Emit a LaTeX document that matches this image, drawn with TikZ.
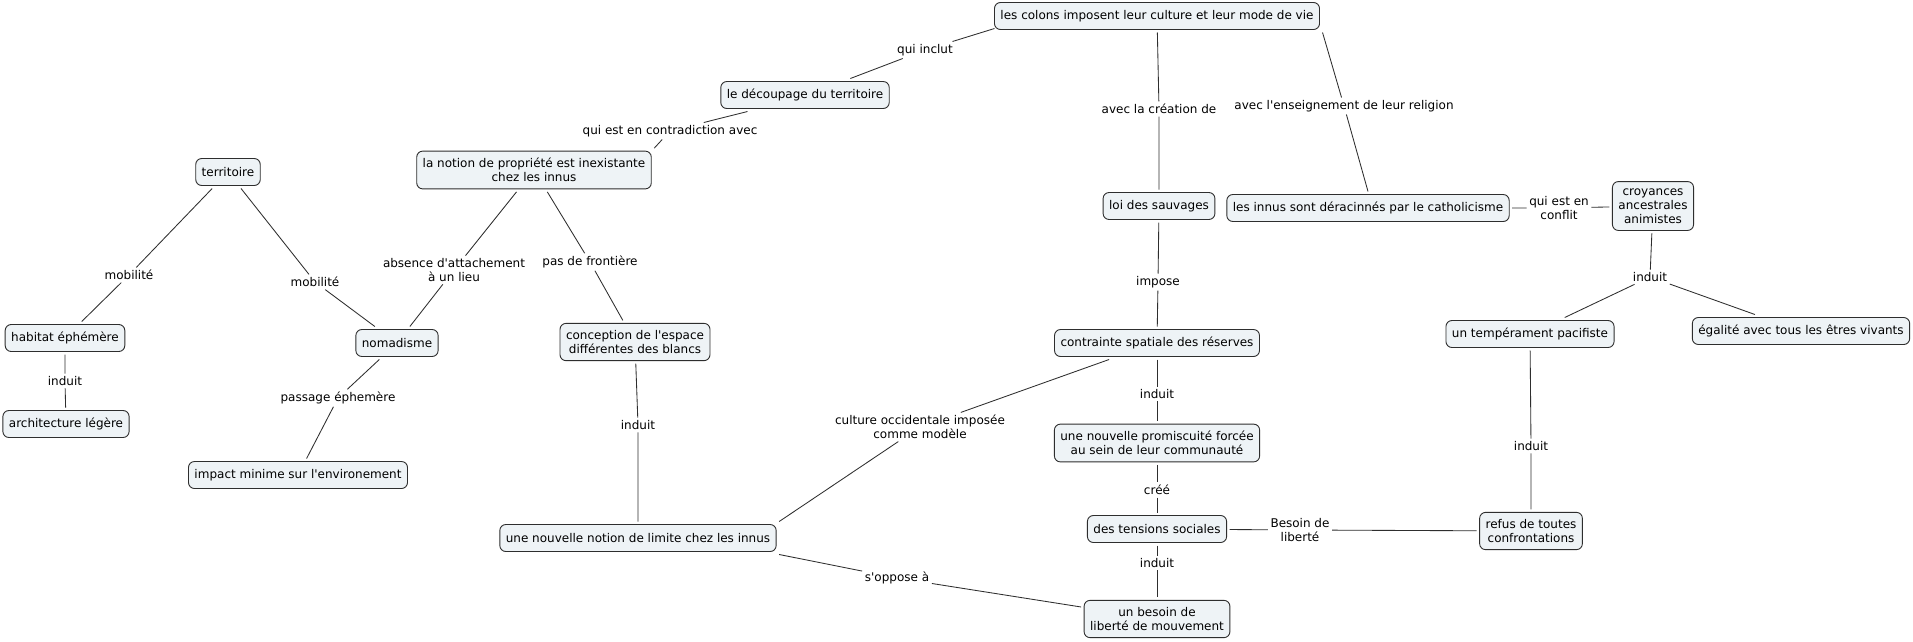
\documentclass[tikz,border=0pt]{standalone}
\usepackage{fontspec}
\newfontfamily\dvfont{DejaVu Sans}
\usetikzlibrary{calc}
\definecolor{boxfill}{HTML}{EEF3F6}
\definecolor{edgecol}{HTML}{2E2E2E}
\tikzset{
  box/.style={draw=edgecol, fill=boxfill, rounded corners=6pt, line width=0.9pt,
    inner xsep=6pt, inner ysep=7pt, minimum height=27pt, align=center,
    font=\dvfont\fontsize{12}{14}\selectfont, outer sep=3pt},
  lbl/.style={inner sep=2.5pt, align=center, font=\dvfont\fontsize{12}{14}\selectfont},
  link/.style={draw=edgecol, line width=0.85pt}
}
\begin{document}
\begin{tikzpicture}[x=1pt, y=-1pt]
\useasboundingbox[fill=white] (0,0) rectangle (1913,641);
% concept boxes
\node[box] (colons) at (1157,16) {les colons imposent leur culture et leur mode de vie};
\node[box] (decoupage) at (805,95) {le découpage du territoire};
\node[box] (notion) at (534,170) {la notion de propriété est inexistante\\chez les innus};
\node[box] (territoire) at (228,172) {territoire};
\node[box] (habitat) at (65,338) {habitat éphémère};
\node[box] (archi) at (66,424) {architecture légère};
\node[box] (nomadisme) at (397,343) {nomadisme};
\node[box] (impact) at (298,475) {impact minime sur l'environement};
\node[box] (conception) at (635,342) {conception de l'espace\\différentes des blancs};
\node[box] (limite) at (638,538) {une nouvelle notion de limite chez les innus};
\node[box] (loi) at (1159,206) {loi des sauvages};
\node[box] (innus) at (1368,208) {les innus sont déracinnés par le catholicisme};
\node[box] (croyances) at (1653,206) {croyances\\ancestrales\\animistes};
\node[box] (pacifiste) at (1530,334) {un tempérament pacifiste};
\node[box] (egalite) at (1801,331) {égalité avec tous les êtres vivants};
\node[box] (contrainte) at (1157,343) {contrainte spatiale des réserves};
\node[box] (promiscuite) at (1157,443) {une nouvelle promiscuité forcée\\au sein de leur communauté};
\node[box] (tensions) at (1157,529) {des tensions sociales};
\node[box] (besoin) at (1157,619) {un besoin de\\liberté de mouvement};
\node[box] (refus) at (1531,531) {refus de toutes\\confrontations};
% link labels
\node[lbl] (lqi) at (925,50) {qui inclut};
\node[lbl] (lcontra) at (670,131) {qui est en contradiction avec};
\node[lbl] (lmob1) at (129,275) {mobilité};
\node[lbl] (lmob2) at (315,282) {mobilité};
\node[lbl] (lind1) at (65,381) {induit};
\node[lbl] (lpass) at (338,398) {passage éphemère};
\node[lbl] (labs) at (454,270) {absence d'attachement\\à un lieu};
\node[lbl] (lpas) at (590,262) {pas de frontière};
\node[lbl] (lind2) at (638,425) {induit};
\node[lbl] (lcrea) at (1159,109) {avec la création de};
\node[lbl] (lens) at (1344,106) {avec l'enseignement de leur religion};
\node[lbl] (limp) at (1158,282) {impose};
\node[lbl] (lconf) at (1559,208) {qui est en\\conflit};
\node[lbl] (lind3) at (1650,277) {induit};
\node[lbl] (lind4) at (1531,446) {induit};
\node[lbl] (lind5) at (1157,394) {induit};
\node[lbl] (lcree) at (1157,490) {créé};
\node[lbl] (lind6) at (1157,563) {induit};
\node[lbl] (llib) at (1300,530) {Besoin de\\liberté};
\node[lbl] (lcult) at (920,427) {culture occidentale imposée\\comme modèle};
\node[lbl] (lopp) at (897,578) {s'oppose à};
% connectors
\draw[link] ($(colons.south west)+(3,-4)$) -- (lqi) -- (decoupage.20);
\draw[link] (decoupage.196) -- (lcontra) -- (notion.north east);
\draw[link] (territoire) -- (lmob1) -- (habitat);
\draw[link] (territoire) -- (lmob2) -- (nomadisme);
\draw[link] (habitat) -- (lind1) -- (archi);
\draw[link] (nomadisme) -- (lpass) -- (impact);
\draw[link] (notion) -- (labs) -- (nomadisme);
\draw[link] (notion) -- (lpas) -- (conception);
\draw[link] (conception) -- (lind2) -- (limite);
\draw[link] (colons) -- (lcrea) -- (loi);
\draw[link] (colons.south east) -- (lens) -- (innus.north);
\draw[link] (loi) -- (limp) -- (contrainte);
\draw[link] (innus) -- (lconf) -- (croyances);
\draw[link] (croyances) -- (lind3) -- (pacifiste);
\draw[link] (lind3) -- (egalite);
\draw[link] (pacifiste) -- (lind4) -- (refus);
\draw[link] (contrainte) -- (lind5) -- (promiscuite);
\draw[link] (promiscuite) -- (lcree) -- (tensions);
\draw[link] (tensions) -- (lind6) -- (besoin);
\draw[link] (tensions) -- (llib) -- (refus);
\draw[link] (contrainte.199) -- (lcult) -- (limite.north east);
\draw[link] (limite.south east) -- (lopp) -- (besoin.171);
\end{tikzpicture}
\end{document}
